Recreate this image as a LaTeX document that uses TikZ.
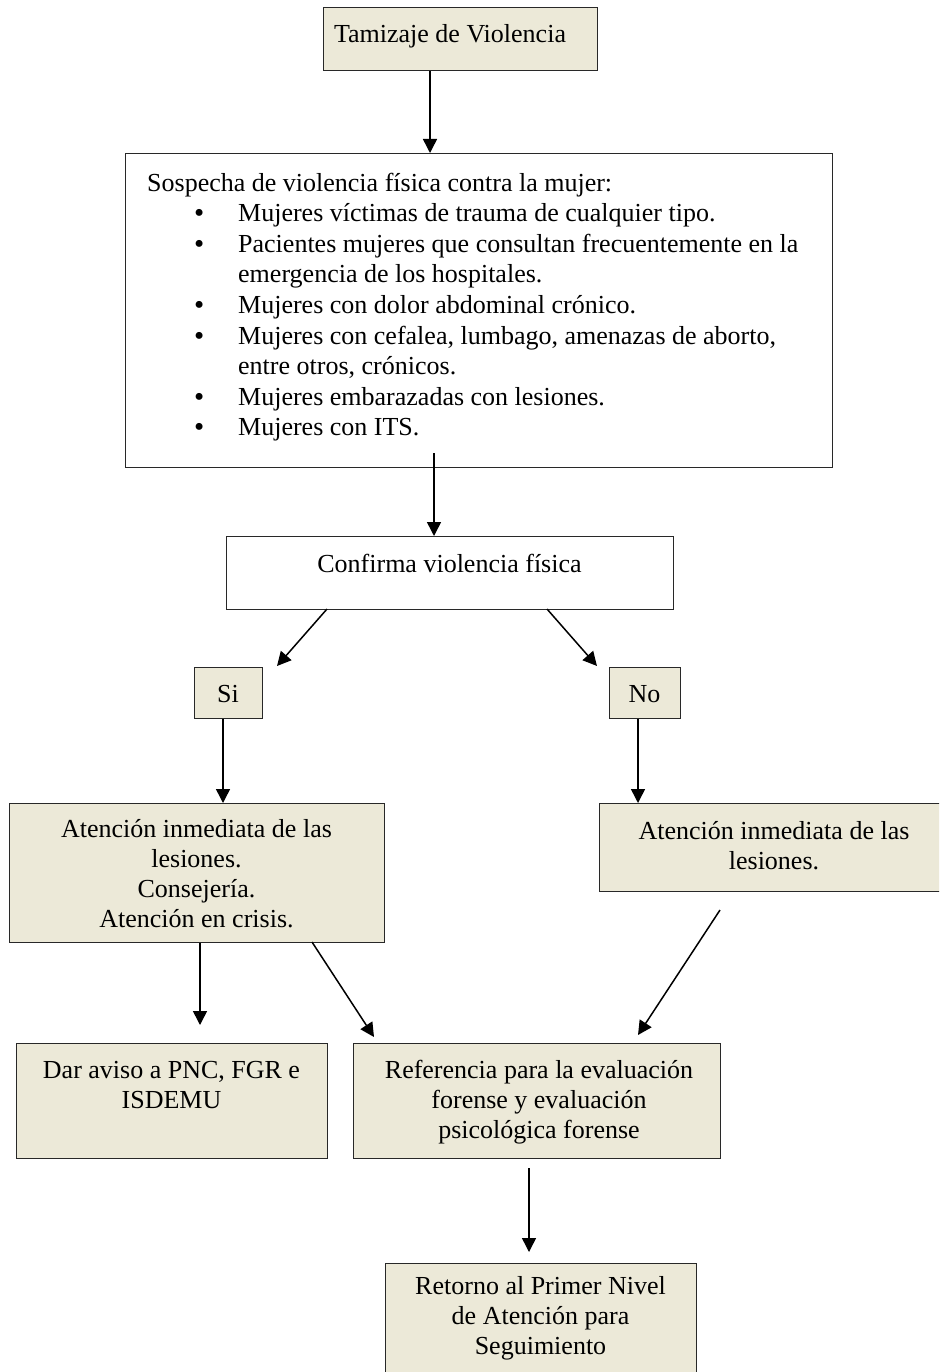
\documentclass[tikz,border=0pt]{standalone}
\usepackage{fontspec}
\setmainfont{Liberation Serif}
\usetikzlibrary{arrows.meta}
\definecolor{beige}{RGB}{236,233,216}
\definecolor{edge}{RGB}{40,40,40}
\newcommand{\blt}{\makebox[44pt][l]{\raisebox{-1pt}{\fontsize{29}{30}\selectfont\textbullet}}}
\begin{document}
\begin{tikzpicture}[x=1pt,y=-1pt,
  boxbase/.style={draw=edge, line width=1.3pt, inner sep=0pt, anchor=north west},
  beigebox/.style={boxbase, fill=beige},
  whitebox/.style={boxbase, fill=white},
  txt/.style={font=\fontsize{26}{30}\selectfont, align=center, inner sep=0pt, anchor=north, execute at begin node=\strut},
  listtxt/.style={font=\fontsize{26}{30.6}\selectfont, align=left, inner sep=0pt, anchor=north west, execute at begin node=\strut},
  arr/.style={line width=1.5pt, -{Triangle[length=14pt,width=14pt]}}]
\useasboundingbox (0,0) rectangle (939,1372);
\clip (0,0) rectangle (939,1372);
\fill[white] (0,0) rectangle (939,1372);

% boxes
\node[beigebox, minimum width=274, minimum height=63] (b1) at (323,7) {};
\node[txt] (b1t) at (450,21) {Tamizaje de Violencia};

\node[whitebox, minimum width=707, minimum height=314] (b2) at (125,153) {};
\node[listtxt] (b2t) at (147,172.5) {Sospecha de violencia física contra la mujer:\\
\hspace*{47pt}\blt Mujeres víctimas de trauma de cualquier tipo.\\
\hspace*{47pt}\blt Pacientes mujeres que consultan frecuentemente en la\\
\hspace*{91pt}emergencia de los hospitales.\\
\hspace*{47pt}\blt Mujeres con dolor abdominal crónico.\\
\hspace*{47pt}\blt Mujeres con cefalea, lumbago, amenazas de aborto,\\
\hspace*{91pt}entre otros, crónicos.\\
\hspace*{47pt}\blt Mujeres embarazadas con lesiones.\\
\hspace*{47pt}\blt Mujeres con ITS.};

\node[whitebox, minimum width=447, minimum height=73] (b3) at (226,536) {};
\node[txt] (b3t) at (449.5,551) {Confirma violencia física};

\node[beigebox, minimum width=68, minimum height=51] (si) at (194,667) {};
\node[txt] (sit) at (228,681) {Si};
\node[beigebox, minimum width=71, minimum height=51] (no) at (609,667) {};
\node[txt] (not) at (644.5,681) {No};

\node[beigebox, minimum width=375, minimum height=139] (lb) at (9,803) {};
\node[txt] (lbt) at (196.5,819) {Atención inmediata de las\\lesiones.\\Consejería.\\Atención en crisis.};

\node[beigebox, minimum width=350, minimum height=88] (rb) at (599,803) {};
\node[txt] (rbt) at (774,821) {Atención inmediata de las\\lesiones.};

\node[beigebox, minimum width=311, minimum height=115] (da) at (16,1043) {};
\node[txt] (dat) at (171.5,1061) {Dar aviso a PNC, FGR e\\ISDEMU};

\node[beigebox, minimum width=367, minimum height=115] (rf) at (353,1043) {};
\node[txt] (rft) at (539,1060) {Referencia para la evaluación\\forense y evaluación\\psicológica forense};

\node[beigebox, minimum width=311, minimum height=140] (rt) at (385,1263) {};
\node[txt] (rtt) at (540.5,1276) {Retorno al Primer Nivel\\de Atención para\\Seguimiento};

% connector points
\coordinate (c1) at (430,0);
\coordinate (c2s) at (434,453);
\coordinate (c3s) at (327,609);
\coordinate (c3e) at (277,666);
\coordinate (c4s) at (547,609);
\coordinate (c4e) at (597,666);
\coordinate (c5) at (223,0);
\coordinate (c6) at (638,0);
\coordinate (c7) at (200,0);
\coordinate (c7e) at (200,1025);
\coordinate (c8s) at (312,942);
\coordinate (c8e) at (374,1037);
\coordinate (c9s) at (720,910);
\coordinate (c9e) at (638,1035);
\coordinate (c10s) at (529,1168);
\coordinate (c10e) at (529,1252);

% connectors
\draw[arr] (c1 |- b1.south) -- (c1 |- b2.north);
\draw[arr] (c2s) -- (c2s |- b3.north);
\draw[arr] (c3s) -- (c3e);
\draw[arr] (c4s) -- (c4e);
\draw[arr] (c5 |- si.south) -- (c5 |- lb.north);
\draw[arr] (c6 |- no.south) -- (c6 |- rb.north);
\draw[arr] (c7 |- lb.south) -- (c7e);
\draw[arr] (c8s) -- (c8e);
\draw[arr] (c9s) -- (c9e);
\draw[arr] (c10s) -- (c10e);
\end{tikzpicture}
\end{document}
